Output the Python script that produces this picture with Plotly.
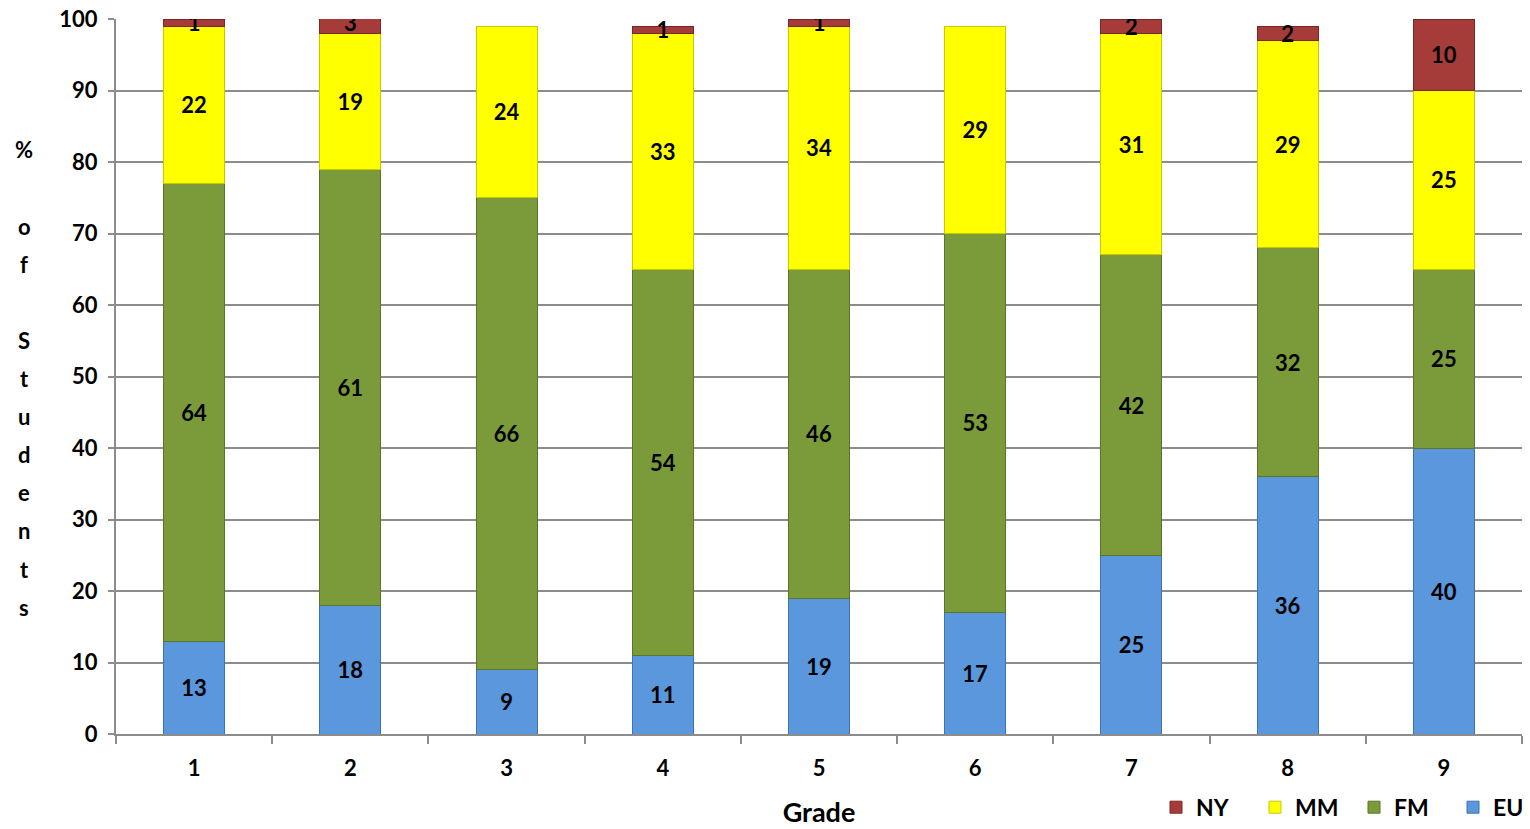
import plotly.graph_objects as go

grades = ["1", "2", "3", "4", "5", "6", "7", "8", "9"]
eu = [13, 18, 9, 11, 19, 17, 25, 36, 40]
fm = [64, 61, 66, 54, 46, 53, 42, 32, 25]
mm = [22, 19, 24, 33, 34, 29, 31, 29, 25]
ny = [1, 3, None, 1, 1, None, 2, 2, 10]
y_ticks = [0, 10, 20, 30, 40, 50, 60, 70, 80, 90, 100]
y_title_lines = ["%", "", "o", "f", "", "S", "t", "u", "d", "e", "n", "t", "s"]

FONT = "Lato"
series = [
    ("EU", eu, "#5b97dc", "#3f72b0"),
    ("FM", fm, "#7b9b3b", "#5a7429"),
    ("MM", mm, "#ffff00", "#c8c800"),
    ("NY", ny, "#a53c3a", "#7a2826"),
]

fig = go.Figure()
for name, vals, color, edge in series:
    fig.add_trace(go.Bar(
        name=name,
        x=grades,
        y=vals,
        text=["" if v is None else str(v) for v in vals],
        textposition="inside",
        insidetextanchor="middle",
        textangle=0,
        constraintext="none",
        textfont=dict(family=FONT, size=22, color="black", weight="bold"),
        marker=dict(color=color, line=dict(color=edge, width=1)),
        width=0.39,
    ))

# Vertical, letter-by-letter y-axis title
for i, ch in enumerate(y_title_lines):
    if ch:
        fig.add_annotation(
            text=ch, xref="paper", yref="y",
            x=-92 / 1406, y=81.7 - i * 5.33,
            xanchor="center", yanchor="middle", showarrow=False,
            font=dict(family=FONT, size=22, color="black", weight="bold"),
        )

fig.update_layout(
    barmode="stack",
    width=1530, height=829,
    margin=dict(l=116, r=8, t=19, b=95, autoexpand=False),
    paper_bgcolor="white", plot_bgcolor="white",
    showlegend=True,
    legend=dict(
        orientation="h", traceorder="reversed",
        x=1.0 + 30 / 1406, xanchor="right", y=-0.1325, yanchor="bottom",
        font=dict(family=FONT, size=23, color="black", weight="bold"),
        itemwidth=30, entrywidth=54,
    ),
    font=dict(family=FONT, color="black"),
)

fig.update_xaxes(
    title=dict(text="Grade", font=dict(family=FONT, size=27, color="black", weight="bold"), standoff=23),
    tickfont=dict(family=FONT, size=22, color="black", weight="bold"),
    ticklabelstandoff=14,
    automargin=False,
    showline=True, linecolor="#8c8c8c", linewidth=2,
    ticks="outside", tickson="boundaries", ticklen=8, tickcolor="#8c8c8c", tickwidth=2,
    showgrid=False,
)
fig.update_yaxes(
    range=[0, 100],
    tickvals=y_ticks,
    tickfont=dict(family=FONT, size=22, color="black", weight="bold"),
    ticklabelstandoff=6,
    automargin=False,
    showline=True, linecolor="#8c8c8c", linewidth=2,
    ticks="outside", ticklen=6, tickcolor="#8c8c8c", tickwidth=2,
    showgrid=True, gridcolor="#8c8c8c", gridwidth=2,
    zeroline=False,
)

fig.write_html("out.html")
